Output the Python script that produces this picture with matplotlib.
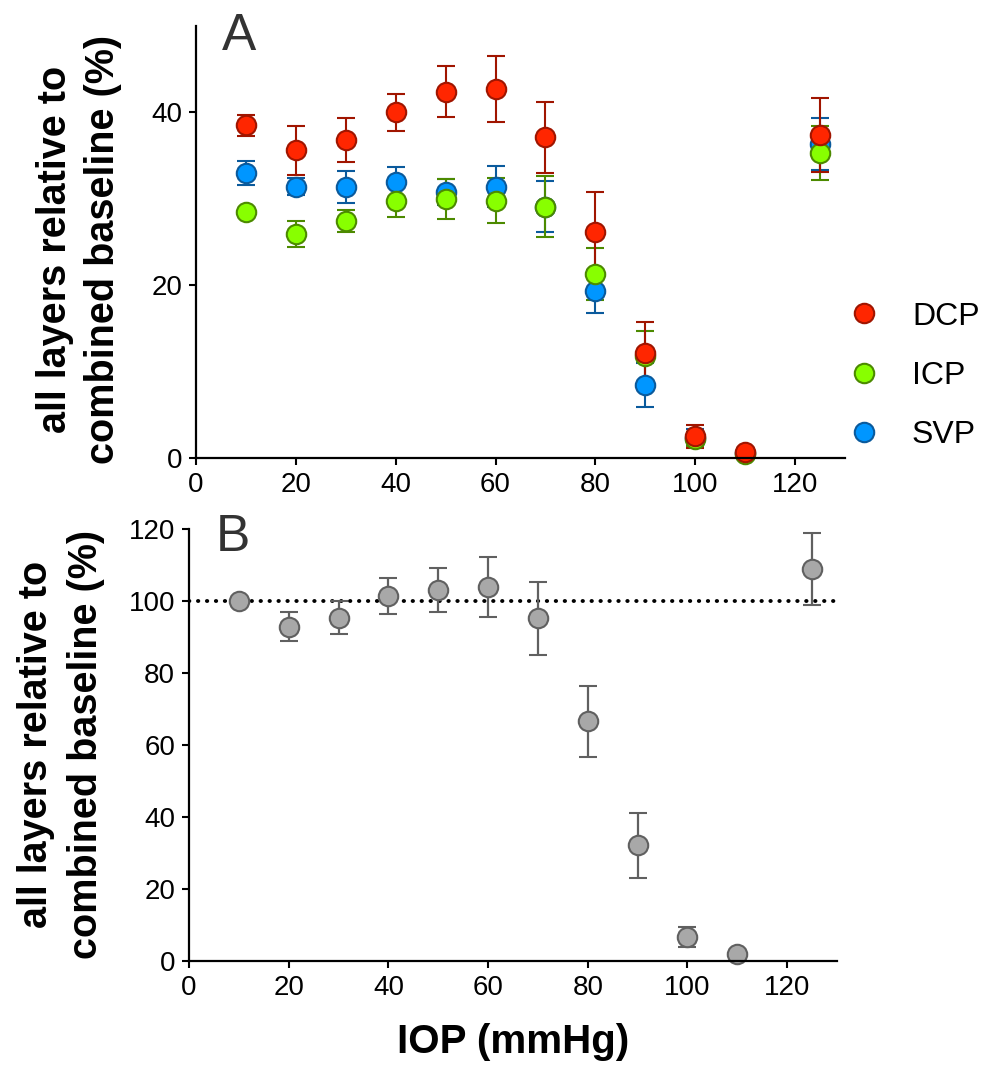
import matplotlib
matplotlib.use("Agg")
import matplotlib.pyplot as plt
from matplotlib.lines import Line2D

plt.rcParams['font.family'] = ['Liberation Sans', 'DejaVu Sans']

# ---- data ----
iop = [10, 20, 30, 40, 50, 60, 70, 80, 90, 100, 110, 125]

dcp_mean = [38.5, 35.6, 36.8, 40.0, 42.4, 42.7, 37.1, 26.2, 12.2, 2.5, 0.7, 37.4]
dcp_err = [1.25, 2.8, 2.55, 2.1, 2.95, 3.8, 4.15, 4.6, 3.5, 1.3, 0.2, 4.3]

icp_mean = [28.5, 25.9, 27.4, 29.8, 30.0, 29.8, 29.1, 21.3, 11.75, 2.2, 0.5, 35.3]
icp_err = [0.3, 1.5, 1.25, 1.95, 2.3, 2.65, 3.5, 3.0, 3.0, 0.8, 0.2, 3.1]

svp_mean = [33.0, 31.4, 31.4, 31.9, 30.8, 31.4, 29.1, 19.3, 8.4, 2.3, 0.6, 36.3]
svp_err = [1.4, 1.0, 1.85, 1.75, 1.5, 2.35, 3.0, 2.5, 2.55, 1.0, 0.2, 3.0]

all_mean = [100.0, 92.9, 95.4, 101.5, 103.1, 103.8, 95.2, 66.6, 32.1, 6.65, 1.9, 109.0]
all_err = [0.5, 4.0, 4.5, 5.0, 6.2, 8.3, 10.2, 9.85, 9.0, 2.8, 0.5, 10.0]

baseline = 100

xticks = [0, 20, 40, 60, 80, 100, 120]
yticks_a = [0, 20, 40]
yticks_b = [0, 20, 40, 60, 80, 100, 120]

series = [
    ("SVP", svp_mean, svp_err, "#0096FF", "#0A5A9C"),
    ("ICP", icp_mean, icp_err, "#88FF00", "#4C8A00"),
    ("DCP", dcp_mean, dcp_err, "#FF2600", "#A01500"),
]

W, H = 992, 1066
fig = plt.figure(figsize=(W / 100, H / 100), dpi=100)

axA = fig.add_axes([196 / W, 1 - 458 / H, 649 / W, 432 / H])
axB = fig.add_axes([189 / W, 1 - 961 / H, 648 / W, 432 / H])

ms = 14
mew = 1.5

def style(ax, yt, ylim):
    ax.set_xlim(0, 130)
    ax.set_ylim(*ylim)
    ax.set_xticks(xticks)
    ax.set_yticks(yt)
    for s in ["top", "right"]:
        ax.spines[s].set_visible(False)
    for s in ["left", "bottom"]:
        ax.spines[s].set_linewidth(1.6)
    ax.tick_params(direction="out", length=5, width=1.5, labelsize=20, pad=5)

for name, m, e, fc, ec in series:
    axA.errorbar(iop, m, yerr=e, fmt="o", ms=ms, mfc=fc, mec=ec, mew=mew,
                 ecolor=ec, elinewidth=1.5, capsize=6.5, capthick=1.5,
                 clip_on=False)

style(axA, yticks_a, (0, 50))

axB.axhline(baseline, xmin=0, xmax=1, color="black", lw=2.8,
            linestyle=(0, (0.1, 2.2)), dash_capstyle="round")
axB.errorbar(iop, all_mean, yerr=all_err, fmt="o", ms=ms, mfc="#A8A8A8",
             mec="#606060", mew=mew, ecolor="#606060", elinewidth=1.6,
             capsize=6.5, capthick=1.6, clip_on=False)
style(axB, yticks_b, (0, 120))

fig.text(513 / W, 1 - 1053 / H, "IOP (mmHg)", fontsize=29, fontweight="bold",
         ha="center", va="baseline")

ylab = "all layers relative to\ncombined baseline (%)"
fig.text(79 / W, 1 - 249 / H, ylab, rotation=90, ha="center", va="center",
         fontsize=28.5, fontweight="bold", multialignment="center", linespacing=1.36)
fig.text(61 / W, 1 - 744 / H, ylab, rotation=90, ha="center", va="center",
         fontsize=28.5, fontweight="bold", multialignment="center", linespacing=1.42)

axA.text(0.04, 0.944, "A", transform=axA.transAxes, fontsize=37,
         color="#333333", ha="left", va="baseline")
axB.text(0.042, 0.949, "B", transform=axB.transAxes, fontsize=37,
         color="#333333", ha="left", va="baseline")

handles = [Line2D([], [], ls="none", marker="o", ms=ms, mfc=fc, mec=ec, mew=mew, label=n)
           for n, m, e, fc, ec in series[::-1]]
axA.legend(handles=handles, loc="center left", bbox_to_anchor=(0.985, 0.19),
           frameon=False, fontsize=23, handlelength=1.0, handletextpad=1.0,
           labelspacing=0.92, borderaxespad=0.0)

fig.savefig("out.png", dpi=100)
